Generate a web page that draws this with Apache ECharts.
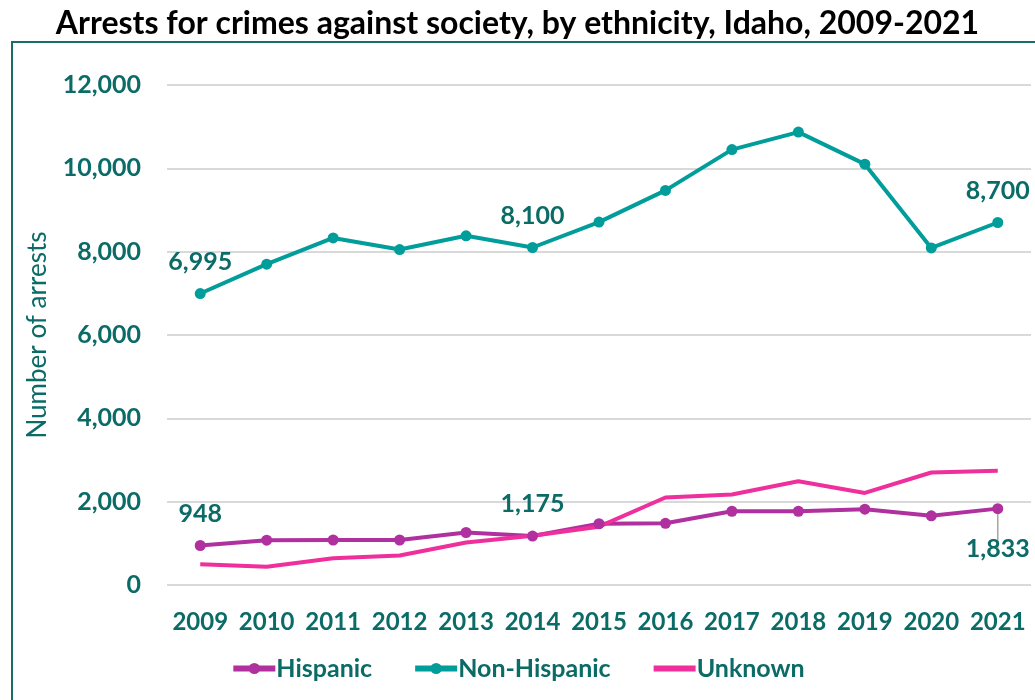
<!DOCTYPE html>
<html><head><meta charset="utf-8">
<script src="https://cdn.jsdelivr.net/npm/echarts@6/dist/echarts.min.js"></script>
<style>html,body{margin:0;padding:0;background:#fff}#c{width:1035px;height:700px}</style>
</head><body><div id="c"></div>
<script>
const years = ['2009','2010','2011','2012','2013','2014','2015','2016','2017','2018','2019','2020','2021'];
const hispanic = [948,1075,1080,1080,1260,1175,1470,1480,1770,1770,1820,1660,1833];
const nonHispanic = [6995,7700,8330,8050,8380,8100,8710,9470,10450,10870,10100,8090,8700];
const unknown = [500,440,640,710,1020,1180,1400,2100,2170,2490,2210,2700,2740];
const yTicks = [0,2000,4000,6000,8000,10000,12000];
const hispLabelIdx = [0,5];
const nonHispLabelIdx = [0,5,12];

const TEAL_TEXT = '#0b6b66';
const FONT = 'Lato, "Open Sans", sans-serif';
const fmt = v => v.toLocaleString('en-US');

function withLabels(arr, idxs, pos) {
  return arr.map((v,i) => idxs.includes(i) ? {value:v, label:{show:true, position: pos}} : v);
}
const hispData = withLabels(hispanic, hispLabelIdx, 'top');
hispData[12] = {value: hispanic[12], label:{show:true, position:'bottom', distance:22},
  labelLine:{show:true, lineStyle:{color:'#a6a6a6', width:1.5}}};

const lblStyle = {fontFamily:FONT, fontSize:25, fontWeight:'bold', color:TEAL_TEXT, distance:14, formatter:p=>fmt(p.value)};

const chart = echarts.init(document.getElementById('c'));
chart.setOption({
  animation:false,
  title:{text:'Arrests for crimes against society, by ethnicity, Idaho, 2009-2021', left:'center', top:3,
    textStyle:{fontFamily:FONT, fontSize:32, fontWeight:'bold', color:'#000'}},
  graphic:[{type:'rect', shape:{x:12,y:42,width:1040,height:700}, style:{fill:'none', stroke:'#1a6e6a', lineWidth:2}, silent:true}],
  grid:{left:167, right:4, top:85, bottom:115},
  legend:{bottom:14, left:'center', itemGap:40, itemWidth:42, itemHeight:14,
    lineStyle:{width:6},
    textStyle:{fontFamily:FONT, fontSize:25, fontWeight:'bold', color:TEAL_TEXT, padding:[0,0,0,-4]},
    data:['Hispanic','Non-Hispanic',{name:'Unknown', itemStyle:{opacity:0}}]},
  xAxis:{type:'category', data:years, boundaryGap:true,
    axisLine:{show:false}, axisTick:{show:false},
    axisLabel:{interval:0, fontFamily:FONT, fontSize:24, fontWeight:'bold', color:TEAL_TEXT, margin:25}},
  yAxis:{type:'value', min:0, max:12000, interval:2000,
    name:'Number of arrests', nameLocation:'middle', nameGap:116, nameRotate:90,
    nameTextStyle:{fontFamily:FONT, fontSize:26, color:TEAL_TEXT},
    axisLabel:{fontFamily:FONT, fontSize:25, fontWeight:'bold', color:TEAL_TEXT, margin:26,
      formatter: v => yTicks.includes(v) ? fmt(v) : ''},
    splitLine:{lineStyle:{color:'#d9d9d9', width:2}}},
  series:[
    {name:'Hispanic', type:'line', data:hispData, color:'#b0309f', symbol:'circle', symbolSize:11,
      lineStyle:{width:4}, label:Object.assign({show:false}, lblStyle)},
    {name:'Non-Hispanic', type:'line', data:withLabels(nonHispanic, nonHispLabelIdx, 'top'), color:'#009d9a', symbol:'circle', symbolSize:11,
      lineStyle:{width:4}, label:Object.assign({show:false}, lblStyle)},
    {name:'Unknown', type:'line', data:unknown, color:'#ee2f9c', symbol:'none', showSymbol:false,
      lineStyle:{width:4}}
  ]
});
</script></body></html>
